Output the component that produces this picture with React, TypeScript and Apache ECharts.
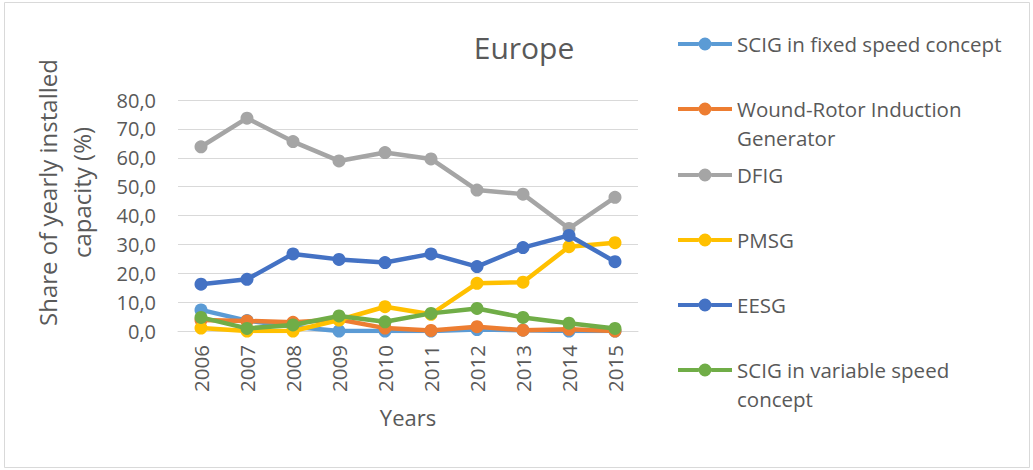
import React, { useEffect, useRef } from "react";
import * as echarts from "echarts";

const years = ["2006", "2007", "2008", "2009", "2010", "2011", "2012", "2013", "2014", "2015"];
const scigFixed = [7.3, 3.6, 1.5, 0.0, 0.0, 0.0, 0.5, 0.3, 0.0, 0.0];
const wrig = [3.8, 3.5, 3.0, 4.0, 1.0, 0.2, 1.5, 0.3, 0.6, 0.0];
const dfig = [63.8, 73.7, 65.6, 58.9, 61.8, 59.6, 48.8, 47.4, 35.5, 46.3];
const pmsg = [1.0, 0.0, 0.0, 3.8, 8.4, 5.8, 16.5, 16.9, 29.2, 30.6];
const eesg = [16.2, 17.9, 26.7, 24.8, 23.7, 26.7, 22.3, 28.9, 33.1, 24.0];
const scigVar = [4.7, 0.9, 2.1, 5.2, 3.2, 6.1, 7.8, 4.7, 2.7, 0.9];

const seriesNames = [
  "SCIG in fixed speed concept",
  "Wound-Rotor Induction Generator",
  "DFIG",
  "PMSG",
  "EESG",
  "SCIG in variable speed concept",
];
const seriesData = [scigFixed, wrig, dfig, pmsg, eesg, scigVar];
const colors = ["#5B9BD5", "#ED7D31", "#A5A5A5", "#FFC000", "#4472C4", "#70AD47"];
const legendLabels = [
  "SCIG in fixed speed concept",
  "Wound-Rotor Induction\nGenerator",
  "DFIG",
  "PMSG",
  "EESG",
  "SCIG in variable speed\nconcept",
];
const legendCenters = [44, 109, 175, 240, 305, 370];

const FONT = "'Open Sans', 'Noto Sans', sans-serif";
const TXT = "#595959";
const LEGEND_ICON =
  "path://M0 4.6 H20.6 V8.4 H0 Z M33.4 4.6 H54 V8.4 H33.4 Z M20.5 6.5 A6.5 6.5 0 1 1 33.5 6.5 A6.5 6.5 0 1 1 20.5 6.5 Z";

export default function App() {
  const ref = useRef<HTMLDivElement>(null);
  useEffect(() => {
    if (!ref.current) return;
    const chart = echarts.init(ref.current, null, { renderer: "svg" });
    const LH = 29;
    const LEG_LEFT = 678;
    const ICON_W = 54;
    const TEXT_X = LEG_LEFT + ICON_W + 5;
    const legends = seriesNames.map((name, i) => {
      const first = legendLabels[i].split("\n")[0];
      return {
        data: [{ name, icon: LEGEND_ICON, itemStyle: { color: colors[i], borderWidth: 0 } }],
        orient: "vertical",
        left: LEG_LEFT,
        top: legendCenters[i] - LH / 2,
        padding: 0,
        itemWidth: ICON_W,
        itemHeight: 13,
        selectedMode: false,
        formatter: () => first,
        textStyle: { fontFamily: FONT, fontSize: 20.5, color: TXT, lineHeight: LH },
      };
    });
    const secondLines = legendLabels
      .map((lbl, i) => ({ parts: lbl.split("\n"), i }))
      .filter((o) => o.parts.length > 1)
      .map((o) => ({
        type: "text",
        x: TEXT_X,
        y: legendCenters[o.i] + LH,
        silent: true,
        style: {
          text: o.parts[1],
          fontFamily: FONT,
          fontSize: 20.5,
          fill: TXT,
          align: "left",
          verticalAlign: "middle",
        },
      }));
    chart.setOption({
      animation: false,
      backgroundColor: "#ffffff",
      title: {
        text: "Europe",
        left: 519,
        top: 27,
        textAlign: "center",
        textStyle: { fontFamily: FONT, fontSize: 30, fontWeight: "normal", color: TXT },
      },
      legend: legends,
      grid: { left: 178, right: 395, top: 100, bottom: 139, containLabel: false },
      xAxis: {
        type: "category",
        data: years,
        boundaryGap: true,
        axisLine: { show: true, lineStyle: { color: "#D9D9D9", width: 1 } },
        axisTick: { show: false },
        axisLabel: { rotate: 90, margin: 14, fontFamily: FONT, fontSize: 20.5, color: TXT },
        name: "Years",
        nameLocation: "middle",
        nameGap: 75,
        nameTextStyle: { fontFamily: FONT, fontSize: 22, color: TXT },
      },
      yAxis: {
        type: "value",
        min: 0,
        max: 80,
        interval: 10,
        axisLine: { show: false },
        axisTick: { show: false },
        splitLine: { lineStyle: { color: "#D9D9D9", width: 1 } },
        axisLabel: {
          margin: 22,
          fontFamily: FONT,
          fontSize: 20,
          color: TXT,
          formatter: (v: number) => v.toFixed(1).replace(".", ","),
        },
        name: "Share of yearly installed\ncapacity (%)",
        nameLocation: "middle",
        nameRotate: 90,
        nameGap: 80,
        nameTextStyle: {
          fontFamily: FONT,
          fontSize: 24,
          color: TXT,
          lineHeight: 34,
          padding: [0, 0, 0, 46],
        },
      },
      graphic: [
        {
          type: "rect",
          shape: { x: 4.5, y: 2.5, width: 1025, height: 465 },
          style: { fill: "none", stroke: "#D9D9D9", lineWidth: 1 },
          silent: true,
        },
        ...secondLines,
      ],
      series: seriesNames.map((name, i) => ({
        name,
        type: "line",
        data: seriesData[i],
        symbol: "circle",
        symbolSize: 13,
        color: colors[i],
        lineStyle: { width: 4.5, color: colors[i] },
        itemStyle: { color: colors[i] },
        z: 2 + i,
      })),
    });
    return () => chart.dispose();
  }, []);
  return (
    <div
      ref={ref}
      style={{ position: "fixed", left: 0, top: 0, width: 1033, height: 470 }}
    />
  );
}
